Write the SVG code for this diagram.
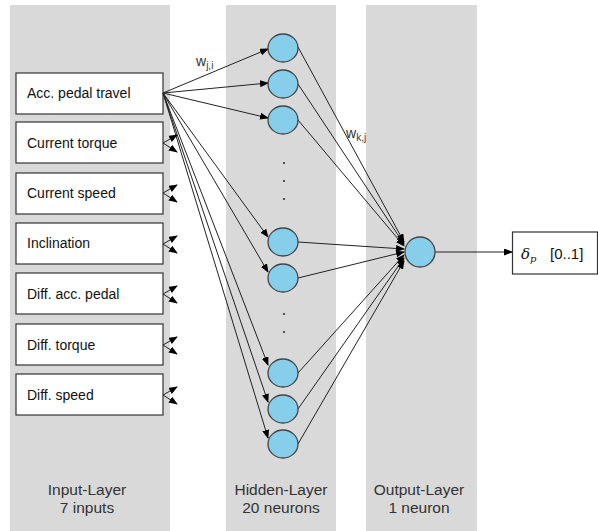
<svg xmlns="http://www.w3.org/2000/svg" width="598" height="531" viewBox="0 0 598 531">
<style>
.col{fill:#d9d9d9}
.box{fill:#fff;stroke:#333;stroke-width:1.2}
.t{font-family:"Liberation Sans",Arial,sans-serif;font-size:14px;fill:#111}
.lbl{font-family:"Liberation Sans",Arial,sans-serif;font-size:15.5px;fill:#333;text-anchor:middle}
.w{font-family:"Liberation Sans",Arial,sans-serif;font-size:14px;fill:#333}
.n{fill:#87ceeb;stroke:#444;stroke-width:1.3}
.c line{stroke:#222;stroke-width:1;marker-end:url(#a)}
.dot{fill:#333}
</style>
<defs>
<marker id="a" markerUnits="userSpaceOnUse" markerWidth="9" markerHeight="7" refX="8" refY="3.5" orient="auto">
<path d="M0,0 L9,3.5 L0,7 z" fill="#000"/>
</marker>
</defs>
<rect class="col" x="10" y="5" width="160" height="526"/>
<rect class="col" x="226" y="5" width="110" height="526"/>
<rect class="col" x="366" y="5" width="111" height="526"/>

<g id="labels">
<text class="lbl" x="87" y="495">Input-Layer</text>
<text class="lbl" x="87" y="513">7 inputs</text>
<text class="lbl" x="281" y="495">Hidden-Layer</text>
<text class="lbl" x="281" y="513">20 neurons</text>
<text class="lbl" x="419" y="495">Output-Layer</text>
<text class="lbl" x="419" y="513">1 neuron</text>
<text class="w" x="196" y="66">w<tspan font-size="10" dy="3">j,i</tspan></text>
<text class="w" x="346" y="138">w<tspan font-size="10" dy="3">k,j</tspan></text>
</g>

<g id="in1"><rect class="box" x="16" y="73" width="147" height="41"/><text class="t" x="27" y="98">Acc. pedal travel</text></g>
<g id="in2"><rect class="box" x="16" y="122" width="147" height="41"/><text class="t" x="27" y="148">Current torque</text></g>
<g id="in3"><rect class="box" x="16" y="173" width="147" height="41"/><text class="t" x="27" y="198">Current speed</text></g>
<g id="in4"><rect class="box" x="16" y="223" width="147" height="41"/><text class="t" x="27" y="248">Inclination</text></g>
<g id="in5"><rect class="box" x="16" y="273" width="147" height="41"/><text class="t" x="27" y="299">Diff. acc. pedal</text></g>
<g id="in6"><rect class="box" x="16" y="324" width="147" height="41"/><text class="t" x="27" y="350">Diff. torque</text></g>
<g id="in7"><rect class="box" x="16" y="374" width="147" height="41"/><text class="t" x="27" y="400">Diff. speed</text></g>

<g id="connectors" class="c">
<line x1="163" y1="93" x2="268" y2="49"/>
<line x1="163" y1="93" x2="268" y2="83"/>
<line x1="163" y1="93" x2="268" y2="118"/>
<line x1="163" y1="93" x2="268" y2="237"/>
<line x1="163" y1="93" x2="268" y2="272"/>
<line x1="163" y1="93" x2="268" y2="365"/>
<line x1="163" y1="93" x2="268" y2="402"/>
<line x1="163" y1="93" x2="268" y2="438"/>
<line x1="163" y1="143" x2="177" y2="135"/>
<line x1="163" y1="143" x2="177" y2="152"/>
<line x1="163" y1="193" x2="177" y2="185"/>
<line x1="163" y1="193" x2="177" y2="202"/>
<line x1="163" y1="244" x2="177" y2="236"/>
<line x1="163" y1="244" x2="177" y2="253"/>
<line x1="163" y1="294" x2="177" y2="286"/>
<line x1="163" y1="294" x2="177" y2="303"/>
<line x1="163" y1="345" x2="177" y2="337"/>
<line x1="163" y1="345" x2="177" y2="354"/>
<line x1="163" y1="395" x2="177" y2="387"/>
<line x1="163" y1="395" x2="177" y2="404"/>
<line x1="298" y1="47" x2="404" y2="242"/>
<line x1="298" y1="84" x2="404" y2="244"/>
<line x1="298" y1="120" x2="404" y2="246"/>
<line x1="298" y1="242" x2="404" y2="249"/>
<line x1="298" y1="278" x2="404" y2="252"/>
<line x1="298" y1="373" x2="404" y2="255"/>
<line x1="298" y1="409" x2="404" y2="258"/>
<line x1="298" y1="444" x2="404" y2="261"/>
<line x1="435" y1="252" x2="512" y2="252"/>
</g>

<g id="h1"><ellipse class="n" cx="283" cy="48" rx="15" ry="14"/></g>
<g id="h2"><ellipse class="n" cx="283" cy="84" rx="15" ry="14"/></g>
<g id="h3"><ellipse class="n" cx="283" cy="120" rx="15" ry="14"/></g>
<g id="h4"><ellipse class="n" cx="283" cy="242" rx="15" ry="14"/></g>
<g id="h5"><ellipse class="n" cx="283" cy="278" rx="15" ry="14"/></g>
<g id="h6"><ellipse class="n" cx="283" cy="373" rx="15" ry="14"/></g>
<g id="h7"><ellipse class="n" cx="283" cy="409" rx="15" ry="14"/></g>
<g id="h8"><ellipse class="n" cx="283" cy="444" rx="15" ry="14"/></g>
<g id="dots">
<circle class="dot" cx="284" cy="163" r="1.1"/>
<circle class="dot" cx="284" cy="181" r="1.1"/>
<circle class="dot" cx="284" cy="199" r="1.1"/>
<circle class="dot" cx="284" cy="314" r="1.1"/>
<circle class="dot" cx="284" cy="332" r="1.1"/>
</g>
<g id="out"><ellipse class="n" cx="420" cy="252" rx="15" ry="15"/></g>
<g id="result"><rect class="box" x="512.5" y="232" width="85" height="42"/>
<text x="521" y="259" font-family="'DejaVu Serif','Liberation Serif',serif" font-style="italic" font-size="15" fill="#111">δ<tspan font-size="10" dy="3">p</tspan></text>
<text class="t" x="550" y="259" font-size="15" style="font-size:15px">[0..1]</text></g>
</svg>
